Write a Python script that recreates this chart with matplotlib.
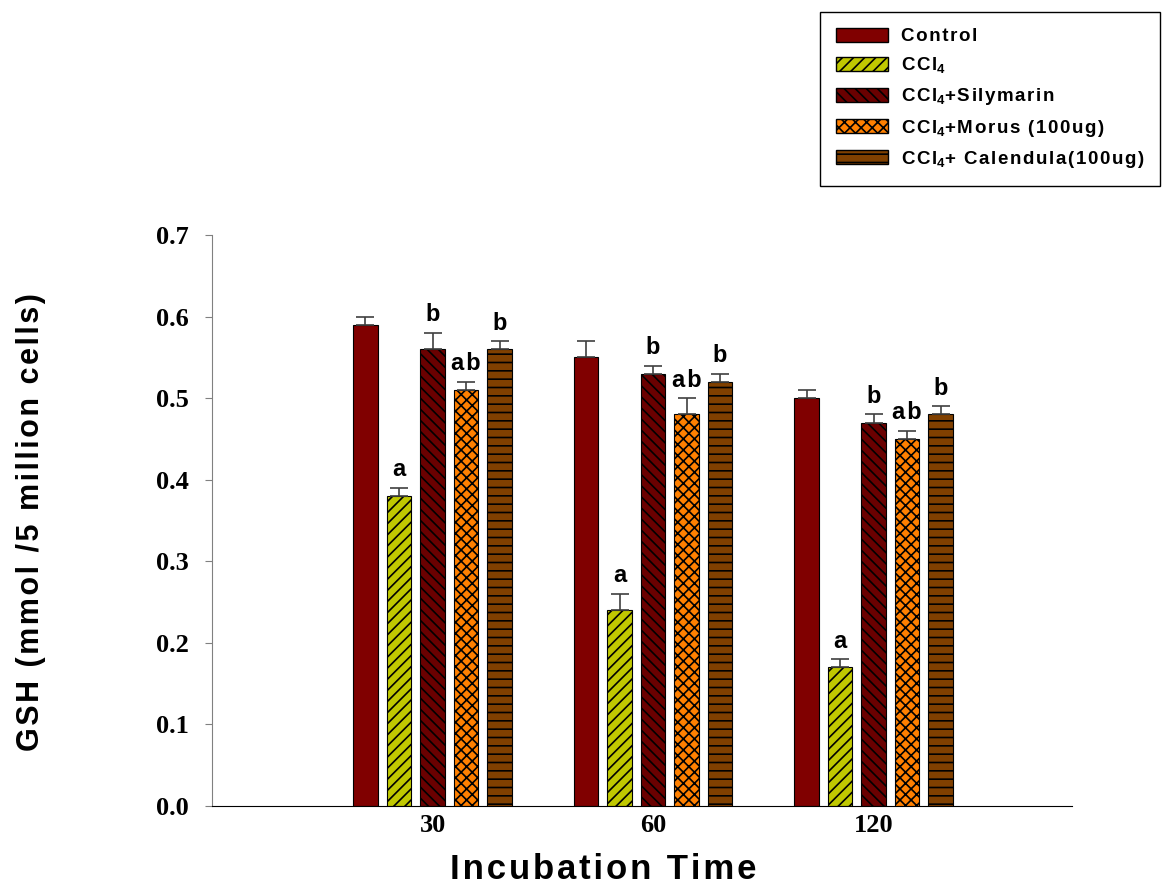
import matplotlib.pyplot as plt
import numpy as np
from matplotlib.patches import Patch

plt.rcParams['mathtext.fontset'] = 'custom'
plt.rcParams['mathtext.rm'] = 'Liberation Sans'
plt.rcParams['mathtext.bf'] = 'Liberation Sans:bold'
plt.rcParams['hatch.linewidth'] = 1.2

times = ["30", "60", "120"]
# (text before the subscript 4, text after it)
groups = [("Control", None), ("CCl", ""), ("CCl", "+Silymarin"),
          ("CCl", "+Morus (100ug)"), ("CCl", "+ Calendula(100ug)")]

control = [0.59, 0.55, 0.50]
ccl4 = [0.38, 0.24, 0.17]
silymarin = [0.56, 0.53, 0.47]
morus = [0.51, 0.48, 0.45]
calendula = [0.56, 0.52, 0.48]

control_err = [0.01, 0.02, 0.01]
ccl4_err = [0.01, 0.02, 0.01]
silymarin_err = [0.02, 0.01, 0.01]
morus_err = [0.01, 0.02, 0.01]
calendula_err = [0.01, 0.01, 0.01]

letters = [["", "a", "b", "ab", "b"],
           ["", "a", "b", "ab", "b"],
           ["", "a", "b", "ab", "b"]]

colors = ["#800000", "#C0C800", "#6A0000", "#FF8000", "#804000"]
hatches = [None, "///", "\\\\\\", "xxx", "--"]

values = [control, ccl4, silymarin, morus, calendula]
errors = [control_err, ccl4_err, silymarin_err, morus_err, calendula_err]


def spaced(s, sp="\u200a"):
    # imitate the wide letter spacing of the original
    return sp.join(s)


def legend_label(g):
    head, tail = g
    if tail is None:
        return spaced(head)
    return spaced(head) + r"$_\mathbf{4}$" + spaced(tail)


fig = plt.figure(figsize=(11.64, 8.84), dpi=100)
ax = fig.add_axes([212 / 1164, 78 / 884, 860 / 1164, 571 / 884])

x = np.arange(1, len(times) + 1)
w = 0.111
step = 0.152
for i in range(5):
    pos = x + (i - 2) * step
    ax.bar(pos, values[i], w, color=colors[i], edgecolor="black",
           linewidth=0.8, hatch=hatches[i], zorder=2)
    ax.errorbar(pos, values[i], yerr=[np.zeros(3), errors[i]], fmt="none",
                ecolor="#404040", elinewidth=1.2, capsize=6.5, capthick=1.2, zorder=3)
    for j in range(3):
        lab = letters[j][i]
        if lab:
            ax.text(pos[j], values[i][j] + errors[i][j] + 0.008, spaced(lab),
                    ha="center", va="bottom", fontsize=17, fontweight="bold",
                    family=["Liberation Sans", "DejaVu Sans"])

ax.set_xlim(0, 3.90)
ax.set_ylim(0, 0.7)
yt = np.arange(0, 0.71, 0.1)
ax.set_yticks(yt)
ax.set_yticklabels(["%.1f" % v for v in yt],
                   family="Liberation Serif", fontweight="bold", fontsize=19)
ax.set_xticks(x)
ax.set_xticklabels(times, family="Liberation Serif", fontweight="bold", fontsize=19)
ax.tick_params(axis="x", length=0, pad=6)
ax.tick_params(axis="y", length=5, color="#808080", pad=12)

ax.spines["top"].set_visible(False)
ax.spines["right"].set_visible(False)
ax.spines["left"].set_color("#808080")
ax.spines["bottom"].set_color("black")

ax.set_xlabel(spaced("Incubation Time"), family=["Liberation Sans", "DejaVu Sans"],
              fontweight="bold", fontsize=25, va="top")
ax.xaxis.set_label_coords(0.455, -0.082)
ax.set_ylabel(spaced("GSH (mmol /5 million cells)"),
              family=["Liberation Sans", "DejaVu Sans"], fontweight="bold", fontsize=22)
ax.yaxis.set_label_coords(-0.193, 0.497)

handles = [Patch(facecolor=colors[i], edgecolor="black", hatch=hatches[i]) for i in range(5)]
leg = fig.legend(handles, [legend_label(g) for g in groups], loc="upper right",
                 bbox_to_anchor=(1160 / 1164, 1 - 12 / 884), borderaxespad=0,
                 prop={"family": ["Liberation Sans", "DejaVu Sans"], "weight": "bold", "size": 13.5},
                 fancybox=False, edgecolor="black", framealpha=1,
                 handlelength=2.8, handleheight=0.75, labelspacing=0.55,
                 borderpad=0.85, handletextpad=0.65)
leg.get_frame().set_linewidth(1.0)

fig.savefig("out.png", dpi=100)
